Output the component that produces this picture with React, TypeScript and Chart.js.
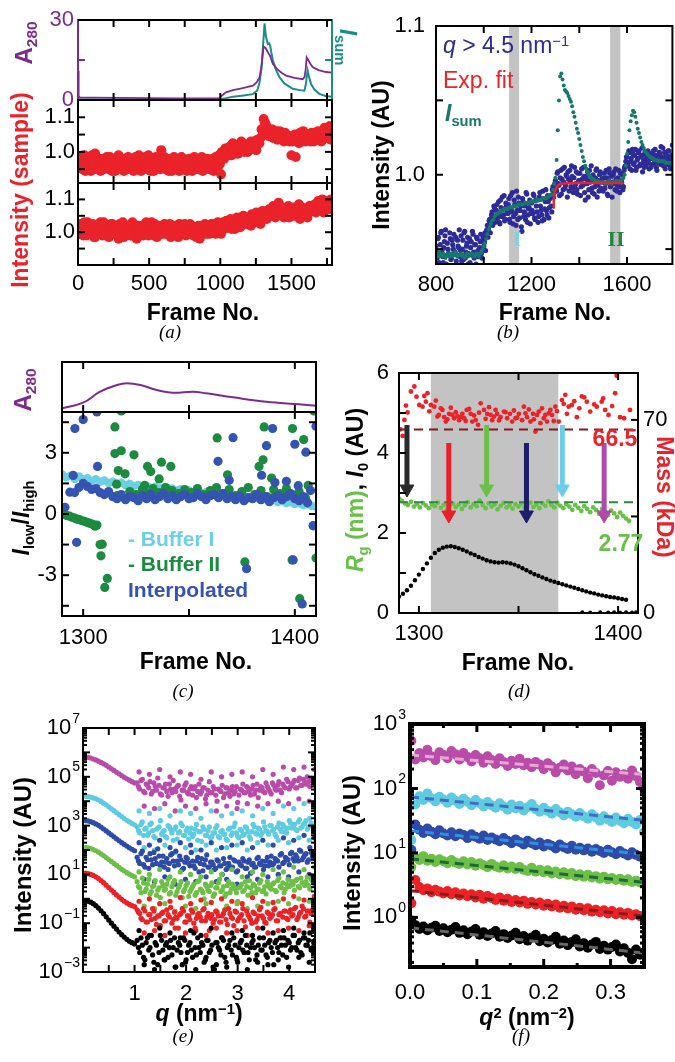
import React, { useEffect, useRef } from 'react';
import { Chart, registerables } from 'chart.js';

Chart.register(...registerables);

const W = 675;
const H = 1062;
const SANS = '"Liberation Sans", Arial, Helvetica, sans-serif';
const SERIF = '"Liberation Serif", "Times New Roman", serif';

/* colours */
const PURPLE = '#7b2c8e';
const TEAL = '#1b8c86';
const RED = '#ea2229';
const DARKRED = '#8a1a1a';
const B_NAVY = '#2d2b96';
const B_TEAL = '#18776d';
const C_CYAN = '#6dd0e2';
const C_GREEN = '#1c8b3f';
const C_NAVY = '#3553b1';
const D_GREEN = '#6ac04a';
const D_DASHGREEN = '#2b8a3c';
const GREY = '#c3c3c3';
const E_MAG = '#b94ba9';
const E_CYAN = '#5ecbe0';
const E_NAVY = '#2d4ba7';
const E_GREEN = '#6dbf47';
const E_RED = '#ec2227';
const E_BLACK = '#000000';

/* ================= (a) ================= */
const aA280X = [0,3,6,12,100,300,500,700,900,995,1010,1040,1089,1150,1229,1255,1276,1290,1304,1318,1334,1350,1369,1400,1430,1463,1520,1579,1592,1600,1607,1620,1635,1649,1690,1743,1785];
const aA280Y = [0.8,11,1.5,1.0,0.9,0.8,0.7,0.6,0.6,0.7,1.6,2.9,3.7,4.4,5.4,6.6,8.5,13,20,19.5,18,16.5,13.6,11.6,10.2,9.1,8.3,7.8,8.6,11.5,16,14.8,13.4,12.4,11.2,10.5,10.3];
const aIsumX = [0,300,600,900,995,1040,1089,1150,1229,1260,1276,1290,1300,1311,1320,1334,1342,1350,1358,1369,1390,1416,1450,1509,1560,1591,1600,1607,1614,1622,1638,1660,1696,1740,1785];
const aIsumY = [0.2,0.2,0.2,0.2,0.3,0.7,1.2,1.6,2.2,3.6,6.6,12,20,28.7,24,21,21.3,20.5,18,15,11.5,8.5,6.2,4.2,3.7,3.5,5.5,8.5,11,9,6,4,2.3,1.5,1.2];
const aFrameStart = 0;
const aFrameStart2 = 7.5;
const aFrameStep = 15;
const aSampleMid = [
  0.985,0.965,0.950,0.990,0.960,0.975,0.945,0.970,0.995,0.955,
  0.965,0.980,0.950,0.970,0.960,0.985,0.945,0.975,0.960,0.990,
  0.955,0.970,0.980,0.950,0.965,0.975,0.945,0.985,0.960,0.970,
  0.950,0.975,0.965,0.990,0.945,0.960,0.975,0.955,0.980,1.005,
  0.960,0.950,0.975,0.965,0.945,0.985,0.960,0.970,0.950,0.975,
  0.965,0.945,0.980,0.960,0.970,0.950,0.975,0.960,0.985,0.955,
  0.965,0.975,0.950,0.980,0.960,0.970,0.990,0.935,0.995,1.010,
  0.995,1.015,0.990,1.005,1.020,0.995,1.010,1.025,1.000,1.015,
  1.005,1.030,1.010,1.020,1.035,1.025,1.065,1.095,1.080,1.060,
  1.050,1.065,1.045,1.060,1.040,1.050,1.035,1.055,1.040,1.030,
  0.990,1.040,0.985,1.045,1.055,1.030,1.045,1.035,1.050,1.030,
  1.040,1.055,1.035,1.050,1.030,1.045,1.060,1.040,1.075,1.050,1.035
];
const aSampleMid2 = [
  0.970,0.955,0.985,0.945,0.975,0.960,0.990,0.950,0.965,0.980,
  0.945,0.970,0.960,0.985,0.950,0.965,0.975,0.945,0.980,0.960,
  0.975,0.945,0.960,0.985,0.955,0.970,0.950,0.965,0.990,0.945,
  0.965,0.985,0.950,0.960,0.975,0.945,0.985,0.965,0.950,0.975,
  0.985,0.965,0.945,0.980,0.955,0.960,0.975,0.945,0.985,0.960,
  0.950,0.975,0.960,0.945,0.985,0.965,0.950,0.980,0.945,0.970,
  0.980,0.950,0.970,0.945,0.985,0.955,0.965,1.000,0.980,1.000,
  1.010,0.990,1.025,1.000,0.995,1.015,1.030,1.005,1.020,1.000,
  1.020,1.010,1.030,1.005,1.025,1.040,1.050,1.085,1.070,1.045,
  1.065,1.040,1.055,1.035,1.060,1.045,1.030,1.050,1.035,1.045,
  1.030,1.050,1.040,1.025,1.045,1.060,1.030,1.050,1.040,1.055,
  1.030,1.045,1.060,1.035,1.050,1.070,1.040,1.055,1.035,1.065
];
const aSampleBot = [
  1.020,0.995,1.010,1.030,0.990,1.015,1.005,1.025,0.985,1.010,
  1.020,1.000,1.030,0.990,1.015,1.005,1.025,0.995,1.010,0.980,
  1.015,1.030,0.995,1.010,1.020,0.990,1.025,1.005,1.015,0.995,
  1.020,1.005,1.030,0.990,1.015,1.000,1.025,0.985,1.010,1.020,
  0.995,1.015,1.005,1.025,0.990,1.010,1.020,0.985,1.015,1.000,
  1.025,0.995,1.010,1.020,0.990,1.015,1.005,0.980,1.020,1.010,
  0.995,1.020,1.010,1.000,1.025,1.005,1.015,0.995,1.030,1.015,
  1.025,1.035,1.010,1.030,1.020,1.040,1.015,1.035,1.025,1.045,
  1.030,1.020,1.045,1.030,1.050,1.035,1.055,1.040,1.060,1.045,
  1.065,1.050,1.075,1.060,1.090,1.055,1.070,1.050,1.065,1.045,
  1.060,1.070,1.050,1.065,1.040,1.075,1.055,1.070,1.060,1.080,
  1.065,1.085,1.070,1.090,1.075,1.060,1.095,1.080,1.070,1.085,1.060
];
const aSampleBot2 = [
  1.005,1.025,0.990,1.015,1.030,0.995,1.010,0.985,1.020,1.000,
  1.030,0.990,1.010,1.020,0.985,1.025,1.000,1.015,0.990,1.025,
  1.000,0.985,1.020,1.005,0.990,1.030,1.010,0.980,1.020,1.010,
  0.990,1.025,1.000,1.015,1.030,0.990,1.010,1.020,0.995,1.005,
  1.025,0.995,1.015,0.985,1.020,1.000,0.990,1.025,1.005,1.015,
  0.990,1.015,1.025,1.000,1.010,0.985,1.020,1.005,0.995,1.025,
  1.010,0.995,1.025,1.015,0.995,1.030,1.000,1.020,1.010,1.035,
  1.015,1.040,1.025,1.010,1.045,1.030,1.020,1.050,1.035,1.025,
  1.040,1.055,1.035,1.060,1.040,1.025,1.065,1.050,1.040,1.070,
  1.055,1.080,1.045,1.070,1.060,1.075,1.045,1.065,1.080,1.055,
  1.075,1.050,1.065,1.085,1.055,1.070,1.060,1.045,1.080,1.065,
  1.080,1.060,1.095,1.070,1.100,1.065,1.085,1.075,1.100,1.070
];
const aXTicks = [250,500,750,1000,1250,1500,1750];
const aXLabels = [0,500,1000,1500];
const aTopYTicks = [15];
const aTopYLabels = [0,30];
const aSampleYTicks = [0.95,1.0,1.05,1.1];
const aSampleYLabels = ['1.0','1.1'];

/* ================= (b) ================= */
const bFrameStart = 800;
const bFrameStart2 = 802.5;
const bFrameStep = 5;
const bNavy = [
  0.952,0.944,0.958,0.947,0.961,0.949,0.941,0.955,0.963,0.946,0.950,0.938,0.957,0.944,0.953,0.960,0.948,0.942,0.956,0.951,
  0.945,0.959,0.950,0.943,0.962,0.948,0.954,0.940,0.957,0.951,0.946,0.960,0.944,0.953,0.958,0.949,0.936,0.955,0.947,0.956,
  0.952,0.961,0.958,0.966,0.963,0.970,0.967,0.975,0.971,0.978,0.969,0.980,0.974,0.968,0.983,0.972,0.977,0.986,0.970,0.979,
  0.974,0.984,0.968,0.977,0.988,0.972,0.980,0.966,0.976,0.985,0.971,0.979,0.962,0.982,0.975,0.970,0.987,0.973,0.978,0.967,
  0.981,0.974,0.986,0.970,0.979,0.983,0.972,0.988,0.976,0.969,0.984,0.977,0.990,0.973,0.982,0.978,0.986,0.975,0.992,0.988,
  0.996,0.989,1.002,0.993,0.998,0.987,1.004,0.995,0.991,1.000,0.985,0.997,1.003,0.992,0.999,0.988,1.005,0.994,0.990,1.001,
  0.996,0.986,1.004,0.993,0.999,0.983,0.997,1.002,0.990,0.995,1.006,0.988,0.998,0.992,1.003,0.985,0.996,1.000,0.991,0.997,
  0.989,1.001,0.994,0.998,0.986,1.004,0.992,0.999,0.995,1.002,0.990,0.997,0.993,1.003,0.988,0.996,1.000,0.992,1.005,1.009,
  1.012,1.006,1.015,1.009,1.003,1.014,1.008,1.017,1.005,1.011,1.016,1.007,1.013,1.002,1.010,1.015,1.006,1.012,1.008,1.014,
  1.005,1.011,1.016,1.008,1.013,1.003,1.010,1.015,1.007,1.012,1.018,1.009,1.004,1.013,1.010,1.016,1.006,1.011,1.020,1.008,
  1.012
];
const bNavy2 = [
  0.948,0.957,0.941,0.953,0.962,0.945,0.951,0.959,0.940,0.954,0.947,0.961,0.943,0.956,0.950,0.939,0.958,0.946,0.952,0.963,
  0.949,0.942,0.956,0.961,0.944,0.952,0.958,0.947,0.941,0.955,0.962,0.948,0.953,0.940,0.957,0.945,0.951,0.960,0.944,0.958,
  0.955,0.949,0.963,0.958,0.969,0.961,0.973,0.966,0.979,0.968,0.976,0.971,0.982,0.967,0.978,0.985,0.973,0.969,0.981,0.975,
  0.980,0.970,0.986,0.975,0.967,0.983,0.974,0.989,0.970,0.981,0.976,0.965,0.984,0.972,0.979,0.988,0.968,0.977,0.983,0.974,
  0.976,0.987,0.971,0.983,0.975,0.968,0.985,0.979,0.973,0.989,0.970,0.982,0.976,0.986,0.971,0.984,0.979,0.990,0.985,0.994,
  0.991,1.001,0.994,0.986,1.003,0.997,0.990,1.005,0.993,0.999,1.002,0.989,0.996,1.006,0.991,0.998,0.993,1.002,0.987,0.996,
  1.001,0.992,0.997,1.005,0.988,0.999,0.994,0.985,1.003,0.996,0.991,1.000,0.987,0.998,1.004,0.993,0.989,1.002,0.995,0.990,
  0.998,0.991,1.003,0.987,0.996,1.001,0.993,0.985,1.000,0.994,1.004,0.989,0.998,0.992,1.001,0.995,0.990,1.003,1.006,1.012,
  1.008,1.016,1.004,1.011,1.017,1.007,1.013,1.003,1.010,1.015,1.006,1.012,1.018,1.008,1.005,1.013,1.009,1.016,1.004,1.011,
  1.014,1.007,1.012,1.017,1.005,1.011,1.008,1.014,1.019,1.009,1.006,1.015,1.011,1.007,1.016,1.012,1.004,1.013,1.009,1.015
];
const bIsum = [
  0.947,0.945,0.946,0.948,0.946,0.945,0.947,0.946,0.944,0.946,0.947,0.945,0.946,0.947,0.945,0.946,0.948,0.946,0.945,0.946,
  0.946,0.947,0.945,0.946,0.944,0.946,0.947,0.945,0.946,0.946,0.947,0.946,0.945,0.946,0.947,0.946,0.945,0.947,0.948,0.950,
  0.952,0.954,0.957,0.960,0.963,0.965,0.967,0.969,0.970,0.972,0.973,0.974,0.974,0.975,0.975,0.976,0.976,0.977,0.977,0.977,
  0.977,0.978,0.978,0.978,0.978,0.979,0.979,0.979,0.979,0.980,0.980,0.980,0.980,0.980,0.981,0.981,0.981,0.981,0.981,0.982,
  0.982,0.982,0.982,0.982,0.983,0.983,0.983,0.983,0.983,0.984,0.984,0.984,0.984,0.985,0.985,0.986,0.986,0.987,0.990,0.994,
  0.998,1.010,1.030,1.050,1.066,1.068,1.064,1.060,1.057,1.056,1.055,1.053,1.051,1.049,1.046,1.042,1.039,1.035,1.031,1.028,
  1.024,1.020,1.016,1.012,1.009,1.006,1.004,1.002,1.000,0.999,0.998,0.997,0.997,0.996,0.996,0.996,0.995,0.995,0.995,0.995,
  0.995,0.995,0.994,0.995,0.995,0.996,0.995,0.994,0.995,0.995,0.995,0.996,0.995,0.995,0.996,0.996,0.997,0.998,1.000,1.006,
  1.014,1.022,1.030,1.036,1.040,1.043,1.042,1.039,1.035,1.031,1.028,1.025,1.022,1.020,1.018,1.016,1.015,1.014,1.013,1.012,
  1.012,1.011,1.011,1.010,1.010,1.010,1.009,1.009,1.009,1.009,1.009,1.009,1.008,1.008,1.008,1.008,1.008,1.008,1.008,1.008,
  1.008
];
const bFitX = [1290,1293,1296,1300,1305,1310,1320,1335,1360,1400,1450,1500,1550,1586];
const bFitY = [0.978,0.983,0.987,0.9895,0.9915,0.9928,0.9937,0.9941,0.9943,0.9944,0.9944,0.9944,0.9944,0.9944];
const bBandFrom = [1106,1529];
const bBandTo = [1148,1572];
const bXTicks = [1000,1200,1400,1600];
const bXLabels = [800,1200,1600];
const bYTicks = [0.95,1.0,1.05];
const bYLabels = [1.0,1.1];

/* ================= (c) ================= */
const cTopX = [1290,1300,1308,1316,1320.5,1327,1334.7,1342.5,1352,1358,1370.8,1386.5,1402,1410];
const cTopY = [0.074,0.186,0.406,0.54,0.574,0.54,0.44,0.386,0.406,0.374,0.294,0.206,0.154,0.126];
const cCyanStart = 1290;
const cCyanStep = 2;
const cCyan = [
  1.95,1.80,1.88,1.72,1.84,1.70,1.76,1.62,1.70,1.58,
  1.64,1.52,1.58,1.47,1.53,1.42,1.48,1.38,1.43,1.33,
  1.39,1.29,1.34,1.25,1.30,1.20,1.25,1.16,1.21,1.12,
  1.16,1.07,1.12,1.02,1.07,0.98,1.03,0.93,0.98,0.89,
  0.93,0.84,0.88,0.79,0.83,0.74,0.78,0.69,0.73,0.64,
  0.68,0.59,0.63,0.54,0.58,0.49,0.52,0.44,0.47,0.39,
  0.36
];
const cNavyStart = 1296;
const cNavyStep = 2;
const cNavyBand = [
  1.05,1.30,1.50,1.35,1.20,1.25,1.05,0.95,1.10,0.85,
  0.75,0.95,0.70,0.85,0.80,0.65,0.90,0.75,0.95,0.70,
  0.85,1.00,0.75,0.90,0.70,0.85,0.95,0.75,0.80,1.00,
  0.85,0.70,0.90,0.95,0.80,1.00,0.75,0.85,0.70,0.90,
  0.65,0.80,0.75,0.95,0.70,0.85,0.60,0.80,0.90,0.70,
  0.85,1.00,0.75,0.65,0.85,0.55
];
const cNavyOutX = [1291.4,1293.7,1295.3,1296.1,1296.9,1300,1306.5,1306.8,1363.7,1369,1370.8,1377.2,1384.3,1386.6,1389.5,1390.6,1396,1399.2,1400,1401.6,1403.5,1405.2,1407.4,1408.7,1410];
const cNavyOutY = [0.33,1.07,1.89,4.19,-1.39,4.63,5.0,2.33,2.58,1.65,3.74,-2.68,1.9,3.35,4.19,1.54,1.6,-2.25,3.42,1.39,-4.41,3.03,1.15,-0.58,4.3];
const cGreenLowX = [1290,1291,1292.4,1293.5,1294.7,1296,1297,1298.3,1299.5,1300.6,1301.8,1303,1304.2,1305.2,1305.7,1306.5,1308,1309,1308.4,1311.4,1310.2];
const cGreenLowY = [0.0,-0.02,-0.08,-0.1,-0.16,-0.2,-0.25,-0.28,-0.33,-0.36,-0.41,-0.45,-0.49,-0.55,-0.6,-0.54,-1.5,-1.48,-2.05,-3.16,-3.6];
const cGreenBandX = [1316,1320,1322,1325,1328,1330,1333,1336,1339,1342,1345,1348,1351,1354,1357,1360,1363,1366,1369,1372,1375,1378,1381,1384,1387,1390,1393,1396,1399,1402,1405];
const cGreenBandY = [0.9,0.75,1.1,0.95,1.2,1.0,1.25,1.05,1.3,1.15,1.0,1.2,1.05,1.25,0.95,1.15,1.3,1.0,1.2,0.9,1.1,1.3,0.95,1.15,0.85,1.2,1.0,1.25,0.9,1.1,0.8];
const cGreenOutX = [1315,1318,1315,1316.6,1319.8,1315.8,1324,1330.4,1331.9,1337,1341.4,1335.9,1329,1363.3,1368.2,1383.1,1385.5,1385,1389,1398.9,1404.2,1406.3,1376.4,1398.7,1402.3,1410,1408.7,1318,1409];
const cGreenOutY = [2.96,3.1,4.27,2.13,1.97,1.46,2.9,2.33,2.08,2.54,2.33,1.72,1.4,3.73,1.92,2.33,4.27,2.66,1.76,4.19,3.65,1.4,-2.35,-2.25,-4.15,-2.16,-0.57,5.05,5.05];
const cXTicks = [1300,1350,1400];
const cXLabels = [1300,1400];
const cYTicks = [-4.5,-3,-1.5,0,1.5,3,4.5];
const cYLabels = [-3,0,3];

/* ================= (d) ================= */
const dMassX = [1290.7,1291.8,1292.7,1294.3,1296,1297.7,1300.2,1301.8,1302.7,1304.3,1306,1307.7,1310,1311,1312.7,1313.5,1315.2,1316.8,1317.7,1319.3,1320.2,1321.8,1322.7,1324,1326,1326.8,1328.5,1329.7,1331,1332.7,1334.3,1336,1336.8,1338.5,1339.3,1341,1342.7,1344.3,1345.7,1346.8,1348.5,1350.2,1351.8,1352.7,1354.3,1356,1357.3,1358.5,1359.3,1361,1361.8,1363.5,1364.3,1366,1366.8,1368.5,1370.2,1371.8,1373.5,1375.2,1376.8,1379.3,1381.8,1384.3,1389.3,1391.8,1393.5,1395.2,1398.5,1399.3,1401,1406];
const dMassY = [66.6,64.2,70,72.7,80.3,82.1,75.4,74.8,78.7,79.7,75.4,74.8,71.8,74.2,71,69.4,72.2,71.8,70.6,71.4,69.9,72.2,70.6,73.6,72.2,69.4,69.9,68.2,76,73.6,72.2,71.8,69.9,73.6,72.2,71,73,70.6,72.2,69.4,70.6,72.2,69.9,74.8,71,69.4,72.2,65.8,71.8,68.8,74.2,71.8,69.4,73.6,71.8,74.8,69.4,77.2,79.1,74.8,75.4,71,78.5,76.6,74.8,76.6,73.6,71.8,79.7,86,71,73.6];
const dMass2X = [1293.5,1298.8,1303.5,1305.2,1308.5,1309.3,1311.8,1314.3,1316,1318.5,1321,1323.5,1325.2,1327.7,1330.2,1333.5,1335.2,1337.7,1340.2,1343.5,1347.7,1349.3,1353.5,1355.2,1357.7,1360.2,1362.7,1365.2,1367.7,1369.3,1372.7,1374.3,1378,1380.5,1383,1386,1388,1392.5,1397,1403];
const dMass2Y = [75.2,78.4,76.6,73.1,77.0,71.2,73.6,70.2,74.4,72.8,71.0,69.6,74.0,71.6,72.6,70.4,74.6,71.2,69.8,72.8,73.4,70.8,72.4,73.8,70.2,73.0,70.6,72.4,69.6,73.2,75.8,72.2,76.8,74.2,78.2,73.0,75.6,77.8,75.0,70.6];
const dRgStart = 1290;
const dRgStep = 1.5;
const dRg = [
  2.86,2.80,2.74,2.70,2.78,2.66,2.72,2.64,2.75,2.69,
  2.62,2.71,2.67,2.76,2.63,2.70,2.58,2.68,2.74,2.65,
  2.71,2.60,2.69,2.77,2.64,2.72,2.67,2.81,2.70,2.62,
  2.74,2.66,2.71,2.59,2.68,2.75,2.64,2.70,2.61,2.72,
  2.66,2.73,2.63,2.69,2.76,2.65,2.71,2.62,2.74,2.68,
  2.79,2.70,2.64,2.75,2.68,2.62,2.72,2.66,2.58,2.70,
  2.63,2.55,2.67,2.60,2.52,2.64,2.57,2.48,2.60,2.53,
  2.45,2.56,2.49,2.40,2.51,2.43,2.36,2.30
];
const dI0Start = 1290;
const dI0Step = 2;
const dI0 = [
  0.41,0.48,0.57,0.68,0.82,0.96,1.10,1.24,1.38,1.50,
  1.58,1.63,1.66,1.67,1.65,1.62,1.58,1.54,1.49,1.45,
  1.40,1.36,1.32,1.29,1.27,1.26,1.27,1.26,1.24,1.21,
  1.17,1.12,1.07,1.02,0.97,0.93,0.89,0.85,0.81,0.78,
  0.75,0.72,0.69,0.66,0.63,0.60,0.57,0.54,0.51,0.49,
  0.46,0.44,0.42,0.40,0.39,0.37,0.35,0.33
];
const dZeroX = [1382,1386,1391,1395,1398,1401,1404,1407,1409];
const dZeroY = [0.02,0.01,0.02,0.01,0.02,0.01,0.02,0.01,0.02];
const dArrowX = [1294,1315,1334,1354,1372,1393];
const dArrowTop = [4.7,4.25,4.7,4.25,4.7,4.25];
const dArrowHead = [3.1,2.45,3.1,2.45,3.1,2.45];
const dArrowColors = ['#2a2a2a','#e8202a','#6cc04a','#1e1e6a','#6ccde8','#b04aa8'];
const dMassRef = 66.5;
const dRgRef = 2.77;
const dBandFrom = 1306;
const dBandTo = 1370;
const dXTicks = [1300,1350,1400];
const dXLabels = [1300,1400];
const dYTicks = [1,2,3,4,5];
const dYLabels = [0,2,4,6];
const dY2Ticks = [35,70];
const dY2Labels = [0,70];

/* ================= (e) ================= */
const eQ = [0.05,0.10,0.15,0.20,0.25,0.30,0.35,0.40,0.45,0.50,0.55,0.60,0.65,0.70,0.75,0.80,0.85,0.90,0.95,1.00,1.05,1.10,1.15,1.20,1.25,1.30,1.35,1.40,1.45,1.50,1.55,1.60,1.65,1.70,1.75,1.80,1.85,1.90,1.95,2.00,2.05,2.10,2.15,2.20,2.25,2.30,2.35,2.40,2.45,2.50,2.55,2.60,2.65,2.70,2.75,2.80,2.85,2.90,2.95,3.00,3.05,3.10,3.15,3.20,3.25,3.30,3.35,3.40,3.45,3.50,3.55,3.60,3.65,3.70,3.75,3.80,3.85,3.90,3.95,4.00,4.05,4.10,4.15,4.20,4.25,4.30,4.35,4.40,4.45,4.50];
const eQ2 = [1.075,1.125,1.175,1.225,1.275,1.325,1.375,1.425,1.475,1.525,1.575,1.625,1.675,1.725,1.775,1.825,1.875,1.925,1.975,2.025,2.075,2.125,2.175,2.225,2.275,2.325,2.375,2.425,2.475,2.525,2.575,2.625,2.675,2.725,2.775,2.825,2.875,2.925,2.975,3.025,3.075,3.125,3.175,3.225,3.275,3.325,3.375,3.425,3.475,3.525,3.575,3.625,3.675,3.725,3.775,3.825,3.875,3.925,3.975,4.025,4.075,4.125,4.175,4.225,4.275,4.325,4.375,4.425,4.475];
const eQ3 = [1.0875,1.1875,1.2875,1.3875,1.4875,1.5875,1.6875,1.7875,1.8875,1.9875,2.0875,2.1875,2.2875,2.3875,2.4875,2.5875,2.6875,2.7875,2.8875,2.9875,3.0875,3.1875,3.2875,3.3875,3.4875,3.5875,3.6875,3.7875,3.8875,3.9875,4.0875,4.1875,4.2875,4.3875,4.4875];
// log10 of intensity
const eBlackLog = [
  -0.08,-0.10,-0.14,-0.20,-0.28,-0.38,-0.49,-0.61,-0.74,-0.87,-1.00,-1.12,-1.24,-1.36,-1.47,-1.57,-1.66,-1.74,-1.80,-1.85,
  -1.7,-2.2,-1.9,-2.5,-1.6,-2.0,-2.3,-1.8,-2.7,-1.5,
  -2.1,-1.9,-2.4,-1.7,-2.0,-2.8,-1.8,-2.2,-1.6,-2.5,
  -1.9,-2.1,-1.4,-2.3,-2.0,-1.8,-2.6,-1.7,-2.2,-1.9,
  -2.9,-1.8,-2.1,-1.6,-2.4,-2.0,-1.7,-2.3,-1.9,-2.6,
  -1.8,-2.1,-1.5,-2.2,-2.0,-1.7,-2.5,-1.9,-2.1,-1.6,
  -2.3,-1.8,-2.0,-2.7,-1.7,-2.2,-1.9,-1.6,-2.4,-1.8,
  -2.0,-1.5,-2.1,-1.7,-2.3,-1.6,-1.9,-1.4,-2.0,-1.7
];
const eBlackLog2 = [
  -2.0,-1.6,-2.4,-1.8,-2.1,-1.5,-2.6,-1.9,-2.2,-1.7,
  -2.5,-1.8,-2.0,-2.3,-1.6,-2.1,-1.9,-2.7,-1.7,-2.2,
  -1.8,-2.4,-2.0,-1.6,-2.2,-1.9,-2.5,-1.7,-2.1,-2.8,
  -1.8,-2.0,-2.3,-1.7,-2.6,-1.9,-2.1,-1.6,-2.4,-2.0,
  -1.7,-2.2,-1.9,-2.5,-1.8,-2.0,-2.3,-1.6,-2.1,-1.9,
  -2.4,-1.7,-2.2,-1.8,-2.0,-1.6,-2.3,-1.9,-1.7,-2.1,
  -1.5,-2.0,-1.8,-2.2,-1.6,-1.9,-1.7,-2.1,-1.8
];
const eBlackLog3 = [-1.3,-2.7,-1.5,-2.9,-1.2,-2.5,-1.4,-2.8,-1.6,-2.6,-1.3,-2.9,-1.5,-2.4,-1.2,-2.7,-1.6,-2.8,-1.4,-2.5,-1.3,-2.9,-1.5,-2.6,-1.2,-2.7,-1.4,-2.5,-1.3,-2.8,-1.2,-2.4,-1.4,-2.6,-1.3];
const eRedLog = [
  1.05,1.03,1.00,0.96,0.90,0.83,0.75,0.66,0.56,0.46,0.36,0.26,0.16,0.07,-0.02,-0.10,-0.17,-0.23,-0.28,-0.32,
  -0.45,-0.60,-0.85,-0.50,-0.95,-0.65,-0.40,-0.80,-0.70,-1.10,
  -0.55,-0.90,-0.65,-0.35,-0.85,-0.75,-1.20,-0.60,-0.50,-0.95,
  -0.70,-0.45,-1.00,-0.80,-0.60,-0.90,-0.40,-0.75,-1.30,-0.65,
  -0.85,-0.55,-0.95,-0.70,-0.45,-1.05,-0.60,-0.80,-0.50,-0.90,
  -0.75,-0.40,-1.15,-0.65,-0.85,-0.55,-0.95,-0.70,-0.35,-0.80,
  -1.00,-0.60,-0.75,-0.45,-0.90,-0.65,-1.60,-0.50,-0.80,-0.55,
  -0.70,-0.40,-0.85,-0.60,-0.30,-0.75,-0.50,-0.95,-0.45,-0.65
];
const eRedLog2 = [
  -0.55,-0.80,-0.40,-0.95,-0.65,-0.85,-0.50,-1.05,-0.70,-0.60,
  -0.90,-0.45,-0.75,-1.00,-0.55,-0.80,-0.65,-0.40,-0.95,-0.70,
  -0.85,-0.55,-1.20,-0.65,-0.75,-0.45,-0.90,-0.60,-0.80,-1.00,
  -0.50,-0.70,-0.95,-0.60,-0.85,-0.40,-0.75,-1.10,-0.55,-0.80,
  -0.65,-0.90,-0.50,-0.75,-1.00,-0.60,-0.85,-0.45,-0.70,-0.95,
  -0.55,-0.80,-0.65,-0.40,-0.90,-0.60,-0.75,-0.50,-0.85,-0.45,
  -0.65,-0.35,-0.75,-0.55,-0.40,-0.70,-0.50,-0.60,-0.40
];
const eRedLog3 = [-0.1,-1.4,0.0,-1.3,-0.2,-1.5,-0.1,-1.2,0.05,-1.4,-0.2,-1.3,-0.05,-1.5,-0.15,-1.2,0.0,-1.4,-0.1,-1.3,-0.2,-1.5,0.05,-1.2,-0.1,-1.4,-0.15,-1.3,0.0,-1.2,0.1,-1.3,-0.05,-1.1,0.1];
const eGreenLog = [
  2.10,2.09,2.06,2.02,1.97,1.91,1.84,1.77,1.69,1.61,1.53,1.45,1.37,1.29,1.21,1.14,1.07,1.01,0.95,0.90,
  0.70,0.45,0.85,0.30,0.60,0.20,0.50,0.75,0.35,0.05,
  0.55,0.40,0.80,0.25,0.65,0.15,0.45,0.70,0.30,0.55,
  0.10,0.40,0.60,0.25,0.75,0.35,0.00,0.50,0.30,0.65,
  0.20,0.45,0.80,0.35,0.10,0.55,0.25,0.60,0.40,-0.10,
  0.50,0.30,0.70,0.15,0.45,0.60,0.25,0.40,0.75,0.35,
  0.20,0.55,0.40,0.65,0.30,0.85,0.45,0.25,0.60,0.50,
  0.70,0.35,0.80,0.45,0.65,0.55,0.90,0.40,0.75,0.60
];
const eGreenLog2 = [
  0.50,0.25,0.65,0.40,0.80,0.30,0.55,0.15,0.45,0.70,
  0.35,0.60,0.20,0.50,0.75,0.30,0.55,0.05,0.40,0.65,
  0.30,0.50,0.15,0.70,0.40,0.25,0.60,0.35,0.55,0.10,
  0.45,0.65,0.30,0.50,0.20,0.70,0.40,0.55,0.25,0.45,
  0.60,0.35,0.50,0.75,0.25,0.55,0.40,0.65,0.30,0.50,
  0.70,0.45,0.60,0.35,0.75,0.50,0.65,0.40,0.80,0.55,
  0.60,0.75,0.50,0.85,0.65,0.70,0.55,0.80,0.65
];
const eGreenLog3 = [1.1,-0.3,1.0,-0.4,1.2,-0.2,0.9,-0.5,1.1,-0.3,1.0,-0.4,0.9,-0.2,1.1,-0.5,1.0,-0.3,1.2,-0.2,0.9,-0.4,1.1,-0.3,1.0,-0.2,1.2,-0.1,1.1,-0.2,1.3,0.0,1.2,-0.1,1.3];
const eNavyLog = [
  3.20,3.19,3.16,3.12,3.07,3.01,2.94,2.86,2.78,2.70,2.62,2.54,2.46,2.38,2.30,2.23,2.16,2.09,2.03,1.97,
  1.70,1.45,1.95,1.30,1.60,1.85,1.40,1.65,2.05,1.35,
  1.75,1.50,1.20,1.80,1.55,1.95,1.40,1.60,1.25,1.70,
  1.45,1.90,1.35,1.55,1.10,1.65,1.40,1.80,1.30,1.50,
  1.20,1.60,1.35,1.00,1.45,1.25,1.70,1.30,1.55,1.15,
  1.40,1.65,1.25,1.50,1.05,1.45,1.30,1.70,1.40,1.20,
  1.55,1.35,1.75,1.45,1.60,1.30,1.85,1.50,1.65,1.40,
  1.90,1.55,1.70,2.00,1.60,1.80,1.50,2.10,1.75,1.65
];
const eNavyLog2 = [
  1.55,1.85,1.40,1.70,1.25,1.60,1.90,1.45,1.75,1.50,
  1.30,1.65,1.45,1.85,1.35,1.55,1.75,1.20,1.50,1.65,
  1.35,1.55,1.25,1.70,1.45,1.15,1.60,1.30,1.50,1.40,
  1.25,1.55,1.35,1.65,1.20,1.45,1.30,1.60,1.10,1.50,
  1.35,1.55,1.25,1.60,1.40,1.30,1.65,1.45,1.55,1.35,
  1.70,1.50,1.40,1.65,1.55,1.80,1.45,1.70,1.60,1.85,
  1.65,1.80,1.55,1.95,1.70,1.85,1.60,1.90,1.75
];
const eNavyLog3 = [2.3,0.8,2.2,0.7,2.4,0.9,2.1,0.6,2.3,0.8,2.2,0.7,2.0,0.9,2.3,0.7,2.1,0.8,2.2,0.6,2.3,0.9,2.1,0.8,2.4,0.9,2.2,1.0,2.5,0.9,2.4,1.1,2.6,1.0,2.5];
const eCyanLog = [
  4.20,4.19,4.17,4.14,4.10,4.05,3.99,3.92,3.85,3.77,3.69,3.61,3.53,3.45,3.37,3.29,3.22,3.15,3.09,3.03,
  2.95,2.70,3.15,2.85,2.60,3.05,2.80,2.50,2.90,3.20,
  2.75,2.55,3.00,2.85,2.40,2.95,2.70,3.10,2.60,2.80,
  2.45,2.90,2.65,3.05,2.75,2.35,2.85,2.60,2.95,2.55,
  2.70,3.00,2.50,2.80,2.65,2.40,2.90,2.70,3.10,2.55,
  2.85,2.60,2.95,2.75,2.45,3.05,2.70,2.90,2.60,3.15,
  2.80,2.65,3.00,2.85,2.55,3.10,2.75,2.95,2.70,3.20,
  2.90,3.05,2.80,3.25,2.95,3.10,2.85,3.30,3.00,2.90
];
const eCyanLog2 = [
  2.80,3.05,2.60,2.90,2.70,3.10,2.55,2.85,2.95,2.65,
  2.80,2.50,2.95,2.70,2.85,2.45,2.75,3.00,2.60,2.90,
  2.70,2.55,2.85,2.40,2.75,2.95,2.60,2.80,2.50,2.70,
  2.90,2.55,2.75,2.65,2.45,2.85,2.60,2.95,2.70,2.50,
  2.80,2.65,2.90,2.55,2.75,2.95,2.65,2.85,2.70,2.95,
  2.75,3.00,2.80,2.65,2.95,2.85,3.05,2.75,2.90,3.10,
  2.95,2.85,3.15,2.90,3.05,3.20,2.95,3.10,3.00
];
const eCyanLog3 = [3.6,2.1,3.5,2.0,3.7,2.2,3.4,1.9,3.6,2.1,3.5,2.0,3.3,2.2,3.6,2.0,3.4,2.1,3.5,2.2,3.6,2.0,3.4,2.3,3.7,2.2,3.5,2.4,3.8,2.3,3.7,2.5,3.9,2.4,3.8];
const eMagentaLog = [
  5.82,5.80,5.77,5.73,5.69,5.64,5.59,5.53,5.47,5.40,5.33,5.26,5.19,5.12,5.05,4.98,4.92,4.86,4.80,4.75,
  4.75,4.50,4.90,4.35,4.65,4.80,4.40,4.60,4.95,4.30,
  4.55,4.70,4.20,4.50,4.85,4.40,4.65,4.05,4.45,4.75,
  4.30,4.60,4.50,4.15,4.70,4.40,4.55,4.25,4.80,4.35,
  4.50,4.00,4.45,4.65,4.30,4.55,4.20,4.60,4.40,3.95,
  4.50,4.70,4.35,4.55,4.25,4.65,4.45,4.15,4.60,4.40,
  4.75,4.50,4.30,4.65,4.45,4.80,4.35,4.60,4.90,4.50,
  4.70,4.85,4.55,4.95,4.65,4.80,5.00,4.60,4.85,4.70
];
const eMagentaLog2 = [
  4.60,4.85,4.40,4.70,4.55,4.30,4.75,4.45,4.65,4.25,
  4.55,4.40,4.70,4.35,4.50,4.60,4.20,4.45,4.65,4.35,
  4.50,4.25,4.60,4.40,4.30,4.55,4.10,4.45,4.35,4.60,
  4.25,4.50,4.40,4.15,4.55,4.35,4.45,4.30,4.60,4.25,
  4.45,4.35,4.60,4.40,4.50,4.30,4.70,4.45,4.55,4.35,
  4.60,4.40,4.75,4.50,4.65,4.45,4.70,4.55,4.80,4.60,
  4.75,4.55,4.85,4.65,4.90,4.70,4.80,4.95,4.75
];
const eMagentaLog3 = [5.2,3.8,5.1,3.7,5.3,3.9,5.0,3.6,5.2,3.8,5.1,3.7,4.9,3.9,5.2,3.6,5.0,3.8,5.1,3.7,5.2,3.9,5.0,3.8,5.3,3.9,5.1,4.0,5.4,3.9,5.3,4.1,5.4,4.0,5.3];
const eXTicks = [0.5,1,1.5,2,2.5,3,3.5,4];
const eXLabels = [1,2,3,4];
const eDecades = [-3,-2,-1,0,1,2,3,4,5,6,7];
const eYLabelExp = [-3,-1,1,3,5,7];
const logMinorMult = [2,3,4,5,6,7,8,9];

/* ================= (f) ================= */
const fQ2 = [0.002,0.008,0.014,0.020,0.026,0.032,0.038,0.044,0.050,0.056,0.062,0.068,0.074,0.080,0.086,0.092,0.098,0.104,0.110,0.116,0.122,0.128,0.134,0.140,0.146,0.152,0.158,0.164,0.170,0.176,0.182,0.188,0.194,0.200,0.206,0.212,0.218,0.224,0.230,0.236,0.242,0.248,0.254,0.260,0.266,0.272,0.278,0.284,0.290,0.296,0.302,0.308,0.314,0.320,0.326,0.332,0.338,0.344,0.350];
const fMagentaLog = [
  2.74,2.45,2.55,2.48,2.60,2.50,2.44,2.56,2.52,2.47,
  2.58,2.53,2.45,2.55,2.49,2.42,2.52,2.47,2.40,2.50,
  2.44,2.38,2.47,2.41,2.35,2.43,2.38,2.46,2.36,2.40,
  2.33,2.41,2.37,2.30,2.39,2.34,2.25,2.32,2.37,2.28,
  2.34,2.22,2.30,2.26,2.16,2.30,2.24,2.05,2.20,2.27,
  2.12,2.25,2.18,2.22,2.15,2.28,2.19,2.10,2.00
];
const fCyanLog = [
  1.20,1.75,1.88,1.82,1.92,1.85,1.80,1.87,1.83,1.78,
  1.86,1.81,1.76,1.84,1.79,1.74,1.82,1.77,1.72,1.79,
  1.74,1.70,1.77,1.72,1.67,1.75,1.69,1.73,1.66,1.71,
  1.76,1.68,1.64,1.70,1.65,1.61,1.68,1.63,1.58,1.64,
  1.60,1.56,1.62,1.57,1.53,1.60,1.55,1.50,1.57,1.52,
  1.48,1.55,1.50,1.46,1.53,1.48,1.44,1.51,1.32
];
const fNavyLog = [
  1.05,1.44,1.36,1.31,1.38,1.33,1.29,1.35,1.30,1.27,
  1.32,1.26,1.30,1.28,1.23,1.29,1.25,1.22,1.27,1.20,
  1.24,1.21,1.18,1.23,1.19,1.15,1.21,1.17,1.13,1.19,
  1.15,1.12,1.16,1.10,1.14,1.11,1.07,1.13,1.09,1.06,
  1.11,1.05,1.08,1.04,1.07,1.02,1.06,1.03,1.00,1.05,
  1.01,0.98,1.03,0.99,0.96,1.01,0.97,0.94,0.92
];
const fGreenLog = [
  0.78,0.93,0.89,0.95,0.88,0.91,0.86,0.90,0.87,0.84,
  0.89,0.85,0.83,0.87,0.82,0.86,0.80,0.84,0.81,0.78,
  0.83,0.79,0.77,0.81,0.76,0.79,0.75,0.78,0.74,0.72,
  0.77,0.71,0.74,0.70,0.73,0.68,0.71,0.67,0.70,0.66,
  0.69,0.64,0.67,0.63,0.66,0.62,0.64,0.60,0.63,0.59,
  0.61,0.58,0.60,0.57,0.59,0.55,0.57,0.54,0.52
];
const fRedLog = [
  0.22,0.58,0.47,0.42,0.45,0.39,0.43,0.40,0.37,0.41,
  0.36,0.39,0.34,0.37,0.33,0.36,0.31,0.35,0.29,0.33,
  0.30,0.27,0.31,0.26,0.29,0.24,0.27,0.23,0.26,0.21,
  0.24,0.20,0.23,0.18,0.21,0.17,0.20,0.15,0.18,0.14,
  0.17,0.12,0.15,0.11,0.14,0.09,0.12,0.08,0.11,0.06,
  0.10,0.05,0.08,0.04,0.07,0.03,0.05,0.02,0.00
];
const fBlackLog = [
  -0.05,-0.12,-0.18,-0.14,-0.20,-0.16,-0.13,-0.21,-0.17,-0.23,
  -0.19,-0.15,-0.24,-0.20,-0.26,-0.22,-0.18,-0.27,-0.23,-0.29,
  -0.25,-0.21,-0.30,-0.26,-0.32,-0.28,-0.24,-0.34,-0.29,-0.36,
  -0.31,-0.27,-0.37,-0.33,-0.39,-0.35,-0.30,-0.41,-0.36,-0.43,
  -0.38,-0.34,-0.45,-0.40,-0.47,-0.42,-0.38,-0.49,-0.44,-0.50,
  -0.46,-0.42,-0.53,-0.48,-0.55,-0.65,-0.50,-0.58,-0.54
];
const fFitStart = [330,74,22,8.1,2.6,0.69];
const fFitEnd = [165,32,9.5,3.5,1.05,0.28];
const fFitColors = ['#e6a6d6','#3f6fc4','#2f8fe0','#1c6b34','#8a1c1c','#666666'];
const fXMajor = [0.1,0.2,0.3];
const fXMinor = [0.05,0.15,0.25];
const fXLabels = ['0.0','0.1','0.2','0.3'];
const fDecades = [0,1,2];
const fYLabelExp = [0,1,2,3];

/* ================= helpers ================= */
const frames = (start: number, step: number, n: number) => {
  const out: number[] = [];
  for (let i = 0; i < n; i++) out.push(+(start + i * step).toFixed(3));
  return out;
};
const pts = (xs: number[], ys: number[]) => xs.map((x, i) => ({ x, y: ys[i] }));
const pow10 = (ys: number[]) => ys.map((v) => Math.pow(10, v));
const minorLog = (decades: number[]) => {
  const out: number[] = [];
  decades.forEach((d) => logMinorMult.forEach((m) => out.push(m * Math.pow(10, d))));
  return out;
};

function dots(xs: number[], ys: number[], color: string, r: number, extra: any = {}) {
  return {
    data: pts(xs, ys), showLine: false, pointRadius: r, pointHoverRadius: r,
    pointBackgroundColor: color, pointBorderColor: color, pointBorderWidth: 0, ...extra,
  };
}
function line(xs: number[], ys: number[], color: string, w: number, extra: any = {}) {
  return {
    data: pts(xs, ys), showLine: true, borderColor: color, borderWidth: w,
    pointRadius: 0, pointHoverRadius: 0, fill: false, tension: 0, ...extra,
  };
}

type Lbl = { v: number; t: string; s?: string };
type AxisDeco = { major?: number[]; minor?: number[]; mirror?: boolean; labels?: Lbl[]; labelColor?: string; gap?: number };
type Deco = {
  fw: number; tickW: number; majorLen: number; minorLen: number; fontSize: number;
  frame: { l: string; r: string; t: string; b: string };
  x?: AxisDeco; y?: AxisDeco; y2?: AxisDeco;
  bands?: { from: number; to: number; color: string }[];
};

function deco(p: Partial<Deco>): Deco {
  return {
    fw: 2, tickW: 2, majorLen: 7, minorLen: 4, fontSize: 22,
    frame: { l: '#000', r: '#000', t: '#000', b: '#000' },
    ...p,
  } as Deco;
}

function drawLabel(ctx: any, l: Lbl, x: number, y: number, align: string, color: string, size: number) {
  const f1 = `${size}px ${SANS}`;
  const f2 = `${Math.round(size * 0.64)}px ${SANS}`;
  ctx.fillStyle = color;
  ctx.textBaseline = 'middle';
  ctx.textAlign = 'left';
  ctx.font = f1;
  const w1 = ctx.measureText(l.t).width;
  let w2 = 0;
  if (l.s) { ctx.font = f2; w2 = ctx.measureText(l.s).width + 1; }
  const tot = w1 + w2;
  const x0 = align === 'left' ? x : align === 'right' ? x - tot : x - tot / 2;
  ctx.font = f1;
  ctx.fillText(l.t, x0, y);
  if (l.s) { ctx.font = f2; ctx.fillText(l.s, x0 + w1 + 1, y - size * 0.42); }
}

function decoPlugin(o: Deco) {
  const seg = (ctx: any, x1: number, y1: number, x2: number, y2: number, color: string, w: number) => {
    ctx.strokeStyle = color; ctx.lineWidth = w;
    ctx.beginPath(); ctx.moveTo(x1, y1); ctx.lineTo(x2, y2); ctx.stroke();
  };
  return {
    id: 'deco',
    beforeDatasetsDraw(chart: any) {
      if (!o.bands) return;
      const { ctx, chartArea: a } = chart;
      const sx = chart.scales.x;
      ctx.save();
      o.bands.forEach((b) => {
        const x1 = sx.getPixelForValue(b.from);
        const x2 = sx.getPixelForValue(b.to);
        ctx.fillStyle = b.color;
        ctx.fillRect(x1, a.top, x2 - x1, a.bottom - a.top);
      });
      ctx.restore();
    },
    afterDatasetsDraw(chart: any) {
      const { ctx, chartArea: a } = chart;
      const sx = chart.scales.x, sy = chart.scales.y, sy2 = chart.scales.y2;
      ctx.save();
      ctx.lineCap = 'butt';
      const xt = (vals: number[] | undefined, len: number, mirror: boolean) => (vals || []).forEach((v) => {
        const p = sx.getPixelForValue(v);
        if (p < a.left - 0.5 || p > a.right + 0.5) return;
        seg(ctx, p, a.bottom, p, a.bottom - len, o.frame.b, o.tickW);
        if (mirror) seg(ctx, p, a.top, p, a.top + len, o.frame.t, o.tickW);
      });
      if (o.x) { xt(o.x.major, o.majorLen, !!o.x.mirror); xt(o.x.minor, o.minorLen, !!o.x.mirror); }
      const yt = (sc: any, vals: number[] | undefined, len: number, left: boolean, right: boolean) => (vals || []).forEach((v) => {
        const p = sc.getPixelForValue(v);
        if (p < a.top - 0.5 || p > a.bottom + 0.5) return;
        if (left) seg(ctx, a.left, p, a.left + len, p, o.frame.l, o.tickW);
        if (right) seg(ctx, a.right, p, a.right - len, p, o.frame.r, o.tickW);
      });
      if (o.y) { yt(sy, o.y.major, o.majorLen, true, !!o.y.mirror); yt(sy, o.y.minor, o.minorLen, true, !!o.y.mirror); }
      if (o.y2 && sy2) { yt(sy2, o.y2.major, o.majorLen, false, true); }
      const h = o.fw / 2;
      seg(ctx, a.left, a.top - h, a.left, a.bottom + h, o.frame.l, o.fw);
      seg(ctx, a.right, a.top - h, a.right, a.bottom + h, o.frame.r, o.fw);
      seg(ctx, a.left, a.top, a.right, a.top, o.frame.t, o.fw);
      seg(ctx, a.left, a.bottom, a.right, a.bottom, o.frame.b, o.fw);
      ctx.restore();
    },
    afterDraw(chart: any) {
      const { ctx, chartArea: a } = chart;
      ctx.save();
      if (o.x && o.x.labels) o.x.labels.forEach((l) => {
        drawLabel(ctx, l, chart.scales.x.getPixelForValue(l.v), a.bottom + (o.x!.gap ?? 20), 'center', o.x!.labelColor || '#000', o.fontSize);
      });
      if (o.y && o.y.labels) o.y.labels.forEach((l) => {
        drawLabel(ctx, l, a.left - (o.y!.gap ?? 4), chart.scales.y.getPixelForValue(l.v), 'right', o.y!.labelColor || '#000', o.fontSize);
      });
      if (o.y2 && o.y2.labels && chart.scales.y2) o.y2.labels.forEach((l) => {
        drawLabel(ctx, l, a.right + (o.y2!.gap ?? 4), chart.scales.y2.getPixelForValue(l.v), 'left', o.y2!.labelColor || '#000', o.fontSize);
      });
      ctx.restore();
    },
  };
}

function cfg(plot: number[], x: any, y: any, datasets: any[], d: Deco, y2?: any) {
  const scales: any = { x: { type: 'linear', display: false, ...x }, y: { type: 'linear', display: false, ...y } };
  if (y2) scales.y2 = { type: 'linear', display: false, position: 'right', ...y2 };
  return {
    type: 'scatter',
    data: { datasets },
    options: {
      animation: false, responsive: false, events: [],
      layout: { padding: { left: plot[0], top: plot[1], right: W - plot[2], bottom: H - plot[3] } },
      scales,
      plugins: { legend: { display: false }, tooltip: { enabled: false } },
    },
    plugins: [decoPlugin(d)],
  };
}

const numLbl = (vals: number[], fmt?: (v: number) => string): Lbl[] => vals.map((v) => ({ v, t: fmt ? fmt(v) : String(v) }));
const expLbl = (exps: number[]): Lbl[] => exps.map((e) => ({ v: Math.pow(10, e), t: '10', s: e < 0 ? '\u2212' + Math.abs(e) : String(e) }));

/* ================= chart configs ================= */
const aFrames = frames(aFrameStart, aFrameStep, aSampleMid.length);
const aFrames2 = frames(aFrameStart2, aFrameStep, aSampleMid2.length);
const aXR = { min: 0, max: 1785 };

const chartA1 = () => cfg([78, 20, 332, 100], aXR, { min: 0, max: 30 }, [
  line(aA280X, aA280Y, PURPLE, 1.8),
  line(aIsumX, aIsumY, TEAL, 2),
], deco({
  frame: { l: PURPLE, r: TEAL, t: '#000', b: '#000' },
  x: { major: aXTicks, mirror: true },
  y: { major: aTopYTicks, mirror: true, labels: numLbl(aTopYLabels), labelColor: PURPLE, gap: 4 },
}));

const chartA2 = () => cfg([78, 100, 332, 183], aXR, { min: 0.91, max: 1.15 }, [
  dots(aFrames, aSampleMid, RED, 5, { clip: 0 }),
  dots(aFrames2, aSampleMid2, RED, 5, { clip: 0 }),
], deco({
  x: { major: aXTicks, mirror: true },
  y: { major: aSampleYTicks, mirror: true, labels: aSampleYLabels.map((t) => ({ v: parseFloat(t), t })), gap: 3 },
}));

const chartA3 = () => cfg([78, 183, 332, 265], aXR, { min: 0.90, max: 1.15 }, [
  dots(aFrames, aSampleBot, RED, 5, { clip: 0 }),
  dots(aFrames2, aSampleBot2, RED, 5, { clip: 0 }),
], deco({
  x: { major: aXTicks, mirror: true, labels: numLbl(aXLabels), gap: 19 },
  y: { major: aSampleYTicks, mirror: true, labels: aSampleYLabels.map((t) => ({ v: parseFloat(t), t })), gap: 3 },
}));

const bFrames = frames(bFrameStart, bFrameStep, bNavy.length);
const bFrames2 = frames(bFrameStart2, bFrameStep, bNavy2.length);
const chartB = () => cfg([436, 26, 673, 264], { min: 800, max: 1790 }, { min: 0.94, max: 1.1 }, [
  line(bFitX, bFitY, RED, 2.5),
  dots(bFrames, bIsum, B_TEAL, 2),
  dots(bFrames, bNavy, B_NAVY, 2.6),
  dots(bFrames2, bNavy2, B_NAVY, 2.6),
], deco({
  bands: bBandFrom.map((f, i) => ({ from: f, to: bBandTo[i], color: GREY })),
  x: { major: bXTicks, mirror: true, labels: numLbl(bXLabels), gap: 21 },
  y: { major: bYTicks, mirror: true, labels: numLbl(bYLabels, (v) => v.toFixed(1)), gap: 11 },
}));

const chartC1 = () => cfg([62, 362, 316, 412], { min: 1290, max: 1410 }, { min: 0, max: 1 }, [
  line(cTopX, cTopY, PURPLE, 2, { tension: 0.4 }),
], deco({
  x: { major: cXTicks, mirror: true },
}));

const chartC2 = () => cfg([62, 412, 316, 616], { min: 1290, max: 1410 }, { min: -5, max: 5 }, [
  dots(frames(cNavyStart, cNavyStep, cNavyBand.length), cNavyBand, C_NAVY, 4.6),
  dots(cNavyOutX, cNavyOutY, C_NAVY, 4.6),
  dots(cGreenBandX, cGreenBandY, C_GREEN, 4.6),
  dots(cGreenOutX, cGreenOutY, C_GREEN, 4.6),
  dots(cGreenLowX, cGreenLowY, C_GREEN, 4.6),
  dots(frames(cCyanStart, cCyanStep, cCyan.length), cCyan, C_CYAN, 4.2),
], deco({
  x: { major: cXTicks, mirror: true, labels: numLbl(cXLabels), gap: 22 },
  y: { major: cYTicks, mirror: true, labels: numLbl(cYLabels), gap: 5 },
}));

const arrowSets = dArrowX.map((x, i) => line([x, x], [dArrowTop[i], dArrowHead[i]], dArrowColors[i], 5, {
  pointRadius: [0, 8], pointStyle: 'triangle', rotation: 180,
  pointBackgroundColor: dArrowColors[i], pointBorderColor: dArrowColors[i], pointBorderWidth: 1,
}));

const chartD = () => cfg([399, 373, 638, 613], { min: 1290, max: 1410 }, { min: 0, max: 6 }, [
  ...arrowSets,
  line([1290, 1410], [dMassRef, dMassRef], DARKRED, 2, { borderDash: [9, 6], yAxisID: 'y2' }),
  line([1290, 1410], [dRgRef, dRgRef], D_DASHGREEN, 2, { borderDash: [9, 6] }),
  dots(dMassX, dMassY, RED, 2.4, { yAxisID: 'y2' }),
  dots(dMass2X, dMass2Y, RED, 2.4, { yAxisID: 'y2' }),
  dots(frames(dRgStart, dRgStep, dRg.length), dRg, D_GREEN, 2.4),
  dots(frames(dI0Start, dI0Step, dI0.length), dI0, '#000', 2.2),
  dots(dZeroX, dZeroY, '#000', 2),
], deco({
  bands: [{ from: dBandFrom, to: dBandTo, color: GREY }],
  x: { major: dXTicks, mirror: true, labels: numLbl(dXLabels), gap: 21 },
  y: { major: dYTicks, mirror: false, labels: numLbl(dYLabels), gap: 10 },
  y2: { major: dY2Ticks, labels: numLbl(dY2Labels), gap: 5 },
}), { min: 0, max: 87 });

const eSeries = [
  { c: E_BLACK, a: eBlackLog, b: eBlackLog2, d: eBlackLog3 },
  { c: E_RED, a: eRedLog, b: eRedLog2, d: eRedLog3 },
  { c: E_GREEN, a: eGreenLog, b: eGreenLog2, d: eGreenLog3 },
  { c: E_NAVY, a: eNavyLog, b: eNavyLog2, d: eNavyLog3 },
  { c: E_CYAN, a: eCyanLog, b: eCyanLog2, d: eCyanLog3 },
  { c: E_MAG, a: eMagentaLog, b: eMagentaLog2, d: eMagentaLog3 },
];
const chartE = () => cfg([83, 728, 315, 972], { min: 0, max: 4.5 }, { type: 'logarithmic', min: 1e-3, max: 1e7 },
  eSeries.flatMap((s) => [
    dots(eQ, pow10(s.a), s.c, 2.6),
    dots(eQ2, pow10(s.b), s.c, 2.6),
    dots(eQ3, pow10(s.d), s.c, 2.6),
  ]),
  deco({
    x: { major: eXTicks, mirror: true, labels: numLbl(eXLabels), gap: 22 },
    y: { major: eDecades.map((d) => Math.pow(10, d)), minor: minorLog(eDecades), mirror: true, labels: expLbl(eYLabelExp), gap: 3 },
  }));

const fitSets = fFitStart.map((s, i) => line([0, 0.35], [s, fFitEnd[i]], fFitColors[i], 3, { borderDash: [9, 6] }));
const chartF = () => cfg([410, 724, 644, 967], { min: 0, max: 0.35 }, { type: 'logarithmic', min: 0.17, max: 1000 }, [
  ...fitSets,
  dots(fQ2, pow10(fBlackLog), E_BLACK, 5),
  dots(fQ2, pow10(fRedLog), E_RED, 5),
  dots(fQ2, pow10(fGreenLog), E_GREEN, 5),
  dots(fQ2, pow10(fNavyLog), E_NAVY, 5),
  dots(fQ2, pow10(fCyanLog), E_CYAN, 5),
  dots(fQ2, pow10(fMagentaLog), E_MAG, 5),
], deco({
  fw: 4, tickW: 3, majorLen: 8, minorLen: 4,
  x: { major: fXMajor, minor: fXMinor, mirror: true, labels: fXLabels.map((t) => ({ v: parseFloat(t), t })), gap: 26 },
  y: { major: fDecades.map((d) => Math.pow(10, d)), minor: minorLog([-1, 0, 1, 2]), mirror: true, labels: expLbl(fYLabelExp), gap: 4 },
}));

/* ================= components ================= */
function ChartLayer({ make }: { make: () => any }) {
  const ref = useRef<HTMLCanvasElement>(null);
  useEffect(() => {
    const chart = new Chart(ref.current as HTMLCanvasElement, make());
    return () => chart.destroy();
  }, []);
  return <canvas ref={ref} width={W} height={H} style={{ position: 'absolute', left: 0, top: 0, width: W, height: H }} />;
}

function Txt(props: { x: number; y: number; rot?: number; size?: number; color?: string; bold?: boolean; italic?: boolean; serif?: boolean; align?: string; children: any }) {
  const { x, y, rot = 0, size = 23, color = '#000', bold = true, italic = false, serif = false, align = 'center', children } = props;
  const tx = align === 'center' ? '-50%' : align === 'left' ? '0' : '-100%';
  return (
    <div style={{
      position: 'absolute', left: x, top: y, transform: `translate(${tx},-50%) rotate(${rot}deg)`,
      whiteSpace: 'nowrap', fontFamily: serif ? SERIF : SANS, fontSize: size, fontWeight: bold ? 'bold' : 'normal',
      fontStyle: italic ? 'italic' : 'normal', color, lineHeight: 1,
    }}>{children}</div>
  );
}
const Sub = ({ t }: { t: string }) => <span style={{ fontSize: '0.64em', position: 'relative', top: '0.32em' }}>{t}</span>;
const Sup = ({ t }: { t: string }) => <span style={{ fontSize: '0.64em', position: 'relative', top: '-0.5em' }}>{t}</span>;
const PanelLbl = ({ x, y, t }: { x: number; y: number; t: string }) => <Txt x={x} y={y} size={19} serif italic bold={false}>{t}</Txt>;

export default function App() {
  return (
    <div style={{ position: 'fixed', left: 0, top: 0, width: W, height: H, background: '#fff', overflow: 'hidden' }}>
      <ChartLayer make={chartA1} />
      <ChartLayer make={chartA2} />
      <ChartLayer make={chartA3} />
      <ChartLayer make={chartB} />
      <ChartLayer make={chartC1} />
      <ChartLayer make={chartC2} />
      <ChartLayer make={chartD} />
      <ChartLayer make={chartE} />
      <ChartLayer make={chartF} />

      {/* (a) */}
      <Txt x={24} y={43} rot={-90} color={PURPLE} size={24}>A<Sub t="280" /></Txt>
      <Txt x={347} y={47} rot={90} color={TEAL} size={23}><i>I</i><Sub t="sum" /></Txt>
      <Txt x={20} y={190} rot={-90} color={RED} size={23}>Intensity (sample)</Txt>
      <Txt x={203} y={312}>Frame No.</Txt>
      <PanelLbl x={170} y={331} t="(a)" />

      {/* (b) */}
      <Txt x={381} y={155} rot={-90}>Intensity (AU)</Txt>
      <Txt x={555} y={312}>Frame No.</Txt>
      <PanelLbl x={508} y={331} t="(b)" />
      <Txt x={443} y={45} align="left" color={B_NAVY} bold={false}><i>q</i> &gt; 4.5 nm<Sup t={'\u22121'} /></Txt>
      <Txt x={443} y={80} align="left" color={RED} bold={false}>Exp. fit</Txt>
      <Txt x={445} y={113} align="left" color={B_TEAL}><i>I</i><Sub t="sum" /></Txt>
      <Txt x={517} y={239} serif color="#7dd3ea" size={22}>I</Txt>
      <Txt x={616} y={239} serif color="#1e8a46" size={22}>II</Txt>

      {/* (c) */}
      <Txt x={23} y={390} rot={-90} color={PURPLE} size={24}>A<Sub t="280" /></Txt>
      <Txt x={21} y={518} rot={-90}><i>I</i><Sub t="low" />/<i>I</i><Sub t="high" /></Txt>
      <Txt x={128} y={538} align="left" color={C_CYAN} size={21}>- Buffer I</Txt>
      <Txt x={128} y={563} align="left" color={C_GREEN} size={21}>- Buffer II</Txt>
      <Txt x={128} y={589} align="left" color={C_NAVY} size={21}>Interpolated</Txt>
      <Txt x={196} y={661}>Frame No.</Txt>
      <PanelLbl x={183} y={690} t="(c)" />

      {/* (d) */}
      <Txt x={355} y={490} rot={-90}><span style={{ color: D_GREEN }}><i>R</i><Sub t="g" /> (nm)</span>, <i>I</i><Sub t="0" /> (AU)</Txt>
      <Txt x={664} y={497} rot={90} color={RED}>Mass (kDa)</Txt>
      <Txt x={615} y={438} color={RED}>66.5</Txt>
      <Txt x={621} y={543} color={D_GREEN}>2.77</Txt>
      <Txt x={518} y={662}>Frame No.</Txt>
      <PanelLbl x={519} y={690} t="(d)" />

      {/* (e) */}
      <Txt x={23} y={855} rot={-90} size={24}>Intensity (AU)</Txt>
      <Txt x={199} y={1013}><i>q</i> (nm<Sup t={'\u22121'} />)</Txt>
      <PanelLbl x={183} y={1035} t="(e)" />

      {/* (f) */}
      <Txt x={352} y={853} rot={-90} size={24}>Intensity (AU)</Txt>
      <Txt x={527} y={1017}><i>q</i><Sup t="2" /> (nm<Sup t={'\u22122'} />)</Txt>
      <PanelLbl x={521} y={1035} t="(f)" />
    </div>
  );
}
